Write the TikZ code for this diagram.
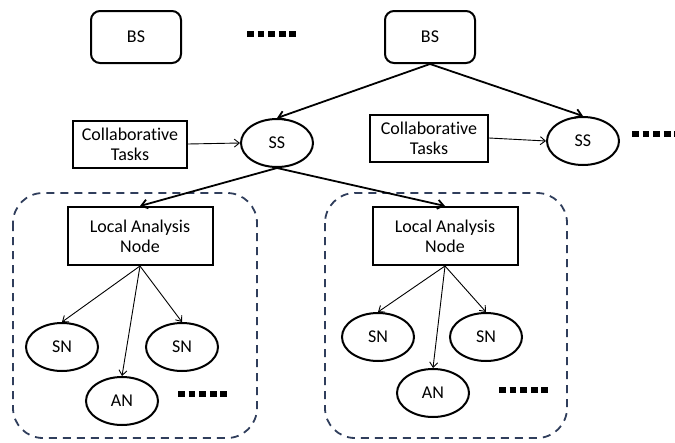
\documentclass[tikz,border=0pt]{standalone}
\usepackage{fontspec}
\setmainfont[Ligatures=CommonOff]{Carlito}
\usetikzlibrary{shapes.geometric,arrows.meta}
\definecolor{clusterblue}{RGB}{48,62,92}

\begin{document}
\begin{tikzpicture}[x=1pt,y=-1pt,line width=2pt,node font=\fontsize{18}{20}\selectfont,
	bsbox/.style={draw,rounded corners=9pt,minimum width=90pt,minimum height=52pt,inner sep=0pt},
	taskbox/.style={draw,align=center,inner sep=0pt,minimum height=47pt},
	oval/.style={draw,ellipse,minimum width=72pt,minimum height=48pt,inner sep=0pt},
	thickarrow/.style={-{Straight Barb[length=6pt,width=9pt]},line width=1.8pt},
	thinarrow/.style={-{Straight Barb[length=5pt,width=8pt]},line width=0.9pt},
	dotrow/.style={line width=6.5pt,dash pattern=on 6.8pt off 3.8pt},
	clusterframe/.style={draw=clusterblue,line width=1.8pt,dash pattern=on 8pt off 6pt,rounded corners=30pt}]
	\useasboundingbox (0,0) rectangle (675,442);
	\draw[clusterframe] (13,193) rectangle (257,438);
	\draw[clusterframe] (325,193) rectangle (567,438);
	\node[bsbox] (bsa) at (136,37) {BS};
	\node[bsbox] (bsb) at (430,37) {BS};
	\draw[dotrow] (247,34) -- (296,34);
	\node[taskbox,minimum width=114pt] (taska) at (130,144) {Collaborative\\Tasks};
	\node[taskbox,minimum width=118pt] (taskb) at (429,138) {Collaborative\\Tasks};
	\node[oval] (ssa) at (277,143) {SS};
	\node[oval] (ssb) at (583,141) {SS};
	\draw[dotrow] (632,134) -- (690,134);
	\draw[thickarrow] (bsb.south) -- (ssa.north);
	\draw[thickarrow] (bsb.south) -- (ssb.north);
	\draw[thinarrow] (taska.east) -- (ssa.west);
	\draw[thinarrow] (taskb.east) -- (ssb.west);
	\node[taskbox,minimum width=145pt,minimum height=58pt] (lana) at (140,236) {Local Analysis\\Node};
	\node[taskbox,minimum width=145pt,minimum height=58pt] (lanb) at (445,236) {Local Analysis\\Node};
	\draw[thickarrow] (ssa.south) -- (lana.north);
	\draw[thickarrow] (ssa.south) -- (lanb.north);
	\node[oval] (sna) at (62,347) {SN};
	\node[oval] (snb) at (182,347) {SN};
	\node[oval] (ana) at (122,401) {AN};
	\draw[dotrow] (178,394) -- (230,394);
	\node[oval] (snc) at (378,337) {SN};
	\node[oval] (snd) at (486,337) {SN};
	\node[oval] (anb) at (433,393) {AN};
	\draw[dotrow] (499,390) -- (550,390);
	\foreach \child in {sna,ana,snb} \draw[thinarrow] (lana.south) -- (\child.north);
	\foreach \child in {snc,anb,snd} \draw[thinarrow] (lanb.south) -- (\child.north);
\end{tikzpicture}
\end{document}
